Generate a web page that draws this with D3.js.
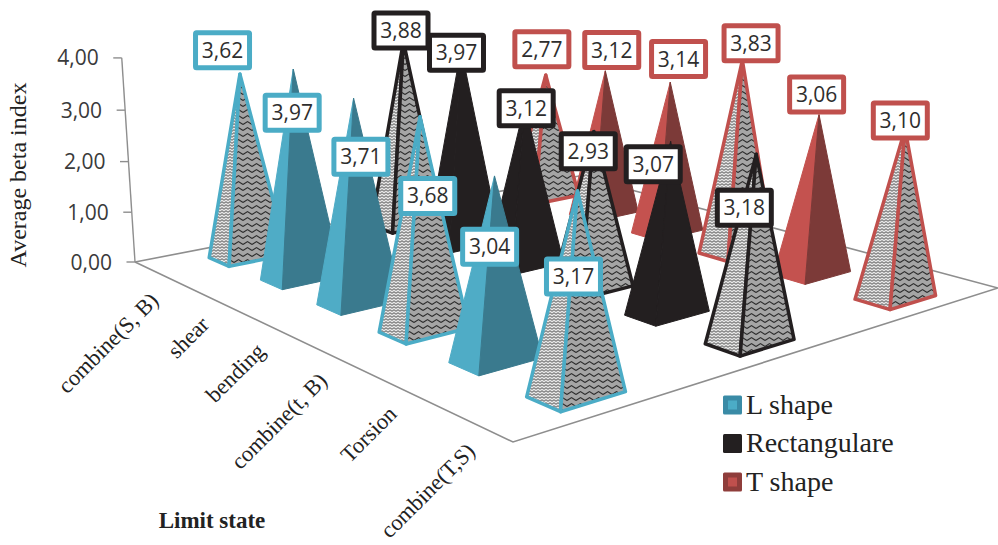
<!DOCTYPE html>
<html><head><meta charset="utf-8">
<script src="https://cdn.jsdelivr.net/npm/d3@7/dist/d3.min.js"></script>
<style>html,body{margin:0;padding:0;background:#fff}svg{display:block}</style>
</head><body><svg id="c" width="998" height="545"></svg>
<script>
const categories=["combine(S, B)","shear","bending","combine(t, B)","Torsion","combine(T,S)"];
const seriesNames=["L shape","Rectangulare","T shape"];
const lShape=[3.62,3.97,3.71,3.68,3.04,3.17];
const rectangulare=[3.88,3.97,3.12,2.93,3.07,3.18];
const tShape=[2.77,3.12,3.14,3.83,3.06,3.10];
const hatched=[true,false,false,true,false,true];
const yTicks=[0,1,2,3,4];
const lightColors=["#4FACC6","#231F20","#C4524F"];
const darkColors=["#3A7A8E","#231F20","#7C3A38"];
const edgeColors=["#4BACC6","#231F20","#C0504D"];
const labelShiftL=[[-17.4,-24],[-1.1,43.7],[7.3,58.4],[7.7,79.1],[-4.9,70.8],[-4,85.5]];
const labelShiftR=[[-2.4,-11.3],[-4.6,4.2],[1.6,2.7],[-5.6,19.6],[-17.4,22.8],[-11.9,53.3]];
const labelShiftT=[[-3.9,-26],[6.4,-20.8],[8.3,-23.1],[8.7,-17.1],[-2.4,-20.2],[-4.8,-8.5]];
const values=[lShape,rectangulare,tShape];
const shifts=[labelShiftL,labelShiftR,labelShiftT];

const svg=d3.select("#c");
const SANS="'Open Sans',sans-serif",SERIF="'Liberation Serif',serif";

// camera: floor homography + vertical vanishing point
const A=[135,262],B=[513,442],C=[998,288],D=[579,176];
const sx=A[0]-B[0]+C[0]-D[0],sy=A[1]-B[1]+C[1]-D[1];
const dx1=B[0]-C[0],dx2=D[0]-C[0],dy1=B[1]-C[1],dy2=D[1]-C[1];
const det=dx1*dy2-dx2*dy1;
const g=(sx*dy2-dx2*sy)/det,h=(dx1*sy-sx*dy1)/det;
const a=B[0]-A[0]+g*B[0],b=D[0]-A[0]+h*D[0],c=A[0];
const d=B[1]-A[1]+g*B[1],e=D[1]-A[1]+h*D[1],f=A[1];
const zk=-0.00792,Vx=540,Vy=6500;
const zScale=d3.scaleLinear().domain([0,4]).range([0,4]);
function P(u,v,val){
  const z=zScale(val||0)*zk;
  const w=g*u+h*v+1+z;
  return [(a*u+b*v+c+z*Vx)/w,(d*u+e*v+f+z*Vy)/w];
}
const uScale=d3.scaleBand().domain(categories).range([0.005,1.012]).paddingInner(0.6).paddingOuter(0.3);
const vScale=d3.scaleBand().domain(seriesNames).range([0,1]).paddingInner(0.66).paddingOuter(0.33);

// patterns
const defs=svg.append("defs");
const pl=defs.append("pattern").attr("id","hatchL").attr("patternUnits","userSpaceOnUse").attr("width",4).attr("height",3);
pl.append("rect").attr("width",4).attr("height",3).attr("fill","#e6e6e6");
pl.append("path").attr("d","M0,2.3 L2,0.7 L4,2.3").attr("fill","none").attr("stroke","#444").attr("stroke-width",0.9);
const pr=defs.append("pattern").attr("id","hatchR").attr("patternUnits","userSpaceOnUse").attr("width",9).attr("height",6);
pr.append("rect").attr("width",9).attr("height",6).attr("fill","#a5a5a5");
pr.append("path").attr("d","M0,4.4 L4.5,1.6 L9,4.4").attr("fill","none").attr("stroke","#2c2c2c").attr("stroke-width",1.2);

const line=d3.line();
// floor
const floorPts=[P(0,0),P(1,0),P(1,1),P(0,1),P(0,0)];
svg.append("path").attr("d",line(floorPts)).attr("fill","none").attr("stroke","#8e8e8e").attr("stroke-width",1.6);

// value axis
svg.append("path").attr("d",line([P(0,0,0),P(0,0,4)])).attr("fill","none").attr("stroke","#8e8e8e").attr("stroke-width",1.4);
yTicks.forEach(t=>{
  const p=P(0,0,t);
  svg.append("line").attr("x1",p[0]-8.5).attr("x2",p[0]).attr("y1",p[1]).attr("y2",p[1]).attr("stroke","#8e8e8e").attr("stroke-width",1.4);
  svg.append("text").attr("x",p[0]-23).attr("y",p[1]+7.5).attr("text-anchor","end")
    .attr("font-family",SANS).attr("font-size",21).attr("fill","#3a3a3a").text(d3.format(".2f")(t).replace(".",","));
});

// pyramids back to front
const marks=svg.append("g");
const labelData=[];
for(let s=2;s>=0;s--){
  const name=seriesNames[s];
  const v0=vScale(name),v1=v0+vScale.bandwidth(),vc=(v0+v1)/2;
  categories.forEach((cat,i)=>{
    const u0=uScale(cat),u1=u0+uScale.bandwidth(),uc=(u0+u1)/2;
    const val=values[s][i],apex=P(uc,vc,val);
    const L=P(u0,v0),F=P(u1,v0),R=P(u1,v1);
    const hx=hatched[i];
    marks.append("path").attr("d",line([L,F,apex])+"Z")
      .attr("fill",hx?"url(#hatchL)":lightColors[s])
      .attr("stroke",hx?edgeColors[s]:lightColors[s]).attr("stroke-width",hx?3.5:1).attr("stroke-linejoin","round");
    marks.append("path").attr("d",line([F,R,apex])+"Z")
      .attr("fill",hx?"url(#hatchR)":darkColors[s])
      .attr("stroke",hx?edgeColors[s]:darkColors[s]).attr("stroke-width",hx?3.5:1).attr("stroke-linejoin","round");
    labelData.push({x:apex[0]+shifts[s][i][0],y:apex[1]+shifts[s][i][1],val,color:edgeColors[s]});
  });
}
// data labels
const lg=svg.append("g");
labelData.forEach(l=>{
  lg.append("rect").attr("x",l.x-27).attr("y",l.y-17.5).attr("width",54).attr("height",35).attr("rx",1)
    .attr("fill","#fff").attr("stroke",l.color).attr("stroke-width",5);
  lg.append("text").attr("x",l.x).attr("y",l.y+7.5).attr("text-anchor","middle").attr("font-family",SANS)
    .attr("font-size",21).attr("fill","#2e2e2e").text(d3.format(".2f")(l.val).replace(".",","));
});

// category labels
categories.forEach(cat=>{
  const u=uScale(cat)+uScale.bandwidth()/2,p=P(u,0);
  svg.append("text").attr("transform",`translate(${p[0]},${p[1]+28}) rotate(-45)`)
    .attr("text-anchor","end").attr("font-family",SERIF).attr("font-size",22.5).attr("fill","#222").text(cat);
});
// titles
svg.append("text").attr("transform","translate(26,175) rotate(-90)").attr("text-anchor","middle")
  .attr("font-family",SERIF).attr("font-size",24).attr("fill","#222").text("Average beta index");
svg.append("text").attr("x",212).attr("y",528).attr("text-anchor","middle").attr("font-family",SERIF)
  .attr("font-weight","bold").attr("font-size",23).attr("fill","#222").text("Limit state");

// legend
const legY=d3.scalePoint().domain(seriesNames).range([405,482]);
seriesNames.forEach((n,i)=>{
  const y=legY(n);
  svg.append("rect").attr("x",723).attr("y",y-9.5).attr("width",19).attr("height",19).attr("rx",1.5).attr("fill",i==1?"#231F20":i==0?"#3A8BA6":"#8F3D3B");
  svg.append("rect").attr("x",728).attr("y",y-4.5).attr("width",9).attr("height",9).attr("fill",i==1?"#231F20":edgeColors[i]);
  svg.append("text").attr("x",746).attr("y",y+8.5).attr("font-family",SERIF).attr("font-size",28).attr("fill","#222").text(n);
});
</script></body></html>
